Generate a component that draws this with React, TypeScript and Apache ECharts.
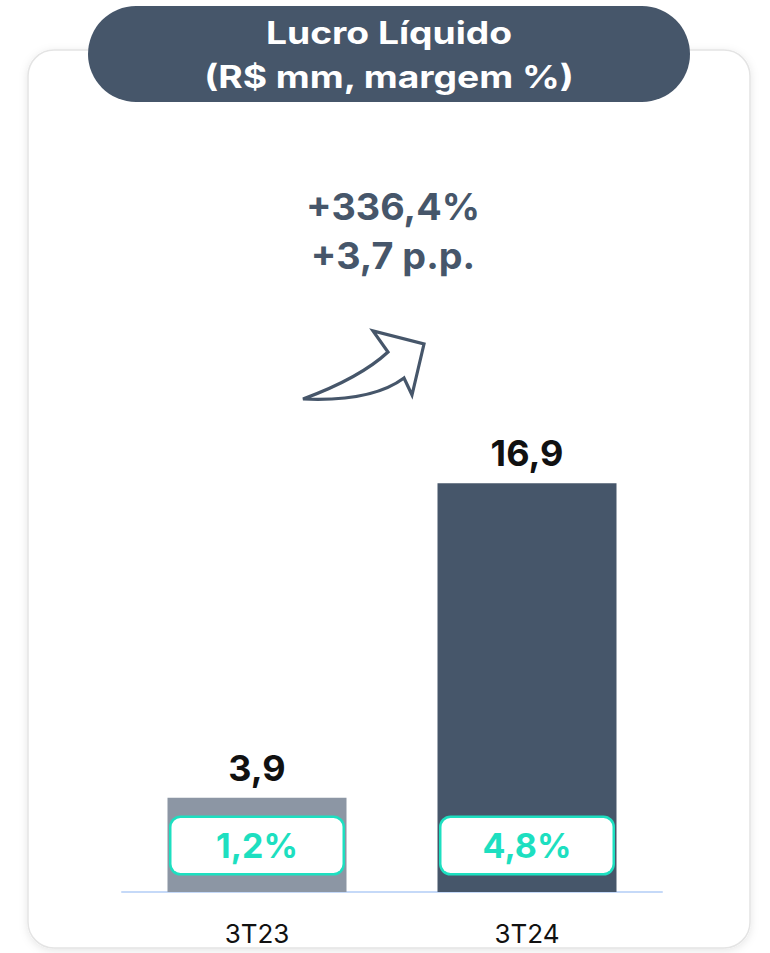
import React, { useEffect, useRef } from "react";
import * as echarts from "echarts";

const categories = ["3T23", "3T24"];
const lucroValues = [3.9, 16.9];
const lucroLabels = ["3,9", "16,9"];
const margemLabels = ["1,2%", "4,8%"];
const barColors = ["#8c96a4", "#46566a"];
const titleLines = ["Lucro Líquido", "(R$ mm, margem %)"];
const growthLines = ["+336,4%", "+3,7 p.p."];

const ARROW_D =
  "M 303 399 Q 360 378 388 352 L 373 331 L 424 344 L 412 395 L 404 378 Q 372 402 303 399 Z";

let registered = false;
function ensureShapes() {
  if (registered) return;
  echarts.graphic.registerShape("arrowUp", echarts.graphic.extendPath(ARROW_D, {}) as any);
  registered = true;
}

export default function App() {
  const ref = useRef<HTMLDivElement>(null);
  useEffect(() => {
    if (!ref.current) return;
    ensureShapes();
    const chart = echarts.init(ref.current, undefined, { renderer: "svg" });
    const font = "Inter, 'Noto Sans', sans-serif";
    const titleText = (text: string, y: number) => ({
      type: "text",
      z: 11,
      x: 389,
      y,
      scaleX: 1.2,
      style: {
        text,
        fill: "#ffffff",
        font: `bold 31px ${font}`,
        align: "center",
        verticalAlign: "middle",
      },
    });
    const growthText = (text: string, y: number) => ({
      type: "text",
      z: 11,
      x: 393,
      y,
      scaleX: 1.02,
      style: {
        text,
        fill: "#46566a",
        font: `bold 37px ${font}`,
        align: "center",
        verticalAlign: "middle",
      },
    });
    chart.setOption({
      animation: false,
      backgroundColor: "#ffffff",
      textStyle: { fontFamily: font },
      graphic: [
        {
          type: "rect",
          z: -10,
          shape: { x: 28, y: 50, width: 722, height: 898, r: 26 },
          style: {
            fill: "#ffffff",
            stroke: "#e4e4e4",
            lineWidth: 1.5,
            shadowBlur: 8,
            shadowColor: "rgba(0,0,0,0.10)",
            shadowOffsetY: 2,
          },
        },
        {
          type: "rect",
          z: 10,
          shape: { x: 88, y: 6, width: 602, height: 96, r: 48 },
          style: { fill: "#46566a" },
        },
        titleText(titleLines[0], 33),
        titleText(titleLines[1], 77),
        growthText(growthLines[0], 207),
        growthText(growthLines[1], 256),
        {
          type: "arrowUp",
          z: 11,
          x: 0,
          y: 0,
          style: {
            fill: "#ffffff",
            stroke: "#46566a",
            lineWidth: 3.2,
            lineJoin: "miter",
          },
        },
      ],
      grid: { left: 122, right: 108, top: 94, bottom: 61 },
      xAxis: {
        type: "category",
        data: categories,
        axisLine: { show: true, lineStyle: { color: "#c5d9f8", width: 2 } },
        axisTick: { show: false },
        axisLabel: {
          color: "#111111",
          fontSize: 26,
          margin: 28,
          fontFamily: font,
        },
      },
      yAxis: {
        type: "value",
        min: 0,
        max: 33,
        show: false,
        splitLine: { show: false },
      },
      series: [
        {
          type: "bar",
          barWidth: 179,
          data: lucroValues.map((v, i) => ({
            value: v,
            itemStyle: { color: barColors[i] },
          })),
          label: {
            show: true,
            position: "top",
            distance: 12,
            formatter: (p: any) => lucroLabels[p.dataIndex],
            color: "#111111",
            fontSize: 36,
            fontWeight: "bold",
            fontFamily: font,
          },
        },
        {
          type: "bar",
          barWidth: 179,
          barGap: "-100%",
          z: 5,
          data: lucroValues,
          itemStyle: { color: "rgba(0,0,0,0)" },
          label: {
            show: true,
            position: "insideBottom",
            distance: 19,
            formatter: (p: any) => margemLabels[p.dataIndex],
            color: "#1ddfc0",
            fontSize: 34,
            fontWeight: "bold",
            fontFamily: font,
            backgroundColor: "#ffffff",
            borderColor: "#1ddfc0",
            borderWidth: 2.5,
            borderRadius: 9,
            width: 171,
            height: 55,
            lineHeight: 55,
            align: "center",
          },
        },
      ],
    });
    return () => chart.dispose();
  }, []);
  return (
    <div
      ref={ref}
      style={{ position: "absolute", left: 0, top: 0, width: 770, height: 953 }}
    />
  );
}
